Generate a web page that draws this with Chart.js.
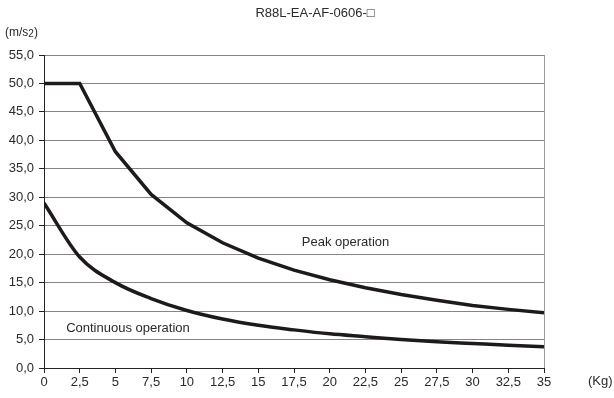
<!DOCTYPE html>
<html><head><meta charset="utf-8">
<script src="https://cdn.jsdelivr.net/npm/chart.js@4"></script>
<style>html,body{margin:0;padding:0;background:#fff}#wrap{width:614px;height:398px}</style>
</head><body><div id="wrap"><canvas id="c" width="614" height="398"></canvas></div>
<script>
const loadKg = [0, 2.5, 5, 7.5, 10, 12.5, 15, 17.5, 20, 22.5, 25, 27.5, 30, 32.5, 35];
const peakAccel = [50, 50, 38, 30.5, 25.5, 22, 19.3, 17.2, 15.5, 14.1, 12.9, 11.9, 11.0, 10.3, 9.7];
const contAccel = [29, 19.5, 15, 12.2, 10.1, 8.6, 7.5, 6.7, 6.0, 5.5, 5.0, 4.6, 4.3, 4.0, 3.75];
const xTickLabels = ['0','2,5','5','7,5','10','12,5','15','17,5','20','22,5','25','27,5','30','32,5','35'];
const yTickLabels = ['0,0','5,0','10,0','15,0','20,0','25,0','30,0','35,0','40,0','45,0','50,0','55,0'];
const titleText = 'R88L-EA-AF-0606-\u25A1';

const FONT = 'Liberation Sans, Arial, sans-serif';
const TXT = '#2a2a2a';

const textPlugin = {
  id: 'texts',
  afterDraw(chart) {
    const {ctx, scales:{x, y}, chartArea:a} = chart;
    ctx.save();
    ctx.strokeStyle = '#999'; ctx.lineWidth = 1;
    ctx.beginPath(); ctx.moveTo(Math.round(a.right)+0.5, a.top); ctx.lineTo(Math.round(a.right)+0.5, a.bottom); ctx.stroke();
    ctx.fillStyle = TXT;
    ctx.font = '13px ' + FONT;
    ctx.textBaseline = 'middle';
    ctx.textAlign = 'center';
    ctx.fillText(titleText, 315, 13);
    ctx.textAlign = 'left';
    ctx.font = '12px ' + FONT;
    ctx.fillText('(m/s', 5, 33);
    let w = ctx.measureText('(m/s').width;
    ctx.font = '10px ' + FONT;
    ctx.fillText('2', 5 + w, 34);
    let w2 = ctx.measureText('2').width;
    ctx.font = '12px ' + FONT;
    ctx.fillText(')', 5 + w + w2, 33);
    ctx.font = '13px ' + FONT;
    ctx.fillText('(Kg)', 588, 381);
    ctx.fillText('Peak operation', x.getPixelForValue(18.05), y.getPixelForValue(22.0));
    ctx.fillText('Continuous operation', x.getPixelForValue(1.55), y.getPixelForValue(7.0));
    ctx.restore();
  }
};

new Chart(document.getElementById('c'), {
  type: 'line',
  data: {
    datasets: [
      { label: 'Peak operation', data: loadKg.map((v,i)=>({x:v, y:peakAccel[i]})), borderColor: '#1e1a1a', borderWidth: 3.5, pointRadius: 0, tension: 0, fill: false },
      { label: 'Continuous operation', data: loadKg.map((v,i)=>({x:v, y:contAccel[i]})), borderColor: '#1e1a1a', borderWidth: 3.5, pointRadius: 0, cubicInterpolationMode: 'monotone', fill: false }
    ]
  },
  options: {
    responsive: false, animation: false,
    layout: { padding: { top: 55, right: 70, left: 0, bottom: 0 } },
    plugins: { legend: { display: false }, title: { display: false }, tooltip: { enabled: false } },
    scales: {
      x: {
        type: 'linear', min: 0, max: 35,
        afterFit(s) { s.height = 30; },
        afterBuildTicks(s) { s.ticks = loadKg.map(v => ({ value: v })); },
        ticks: { color: TXT, font: { size: 13, family: FONT }, padding: 2, maxRotation: 0, autoSkip: false,
          callback: (v, i) => xTickLabels[i] },
        grid: { drawOnChartArea: false, drawTicks: true, tickLength: 5, color: '#222' },
        border: { color: '#222', width: 1 }
      },
      y: {
        min: 0, max: 55,
        afterFit(s) { s.width = 44; },
        afterBuildTicks(s) { s.ticks = yTickLabels.map((t, i) => ({ value: i * 5 })); },
        ticks: { color: TXT, font: { size: 13, family: FONT }, padding: 5, autoSkip: false,
          callback: (v, i) => yTickLabels[i] },
        grid: { color: '#858585', lineWidth: 1, tickLength: 5, tickColor: '#222' },
        border: { color: '#222', width: 1 }
      }
    }
  },
  plugins: [textPlugin]
});
</script></body></html>
